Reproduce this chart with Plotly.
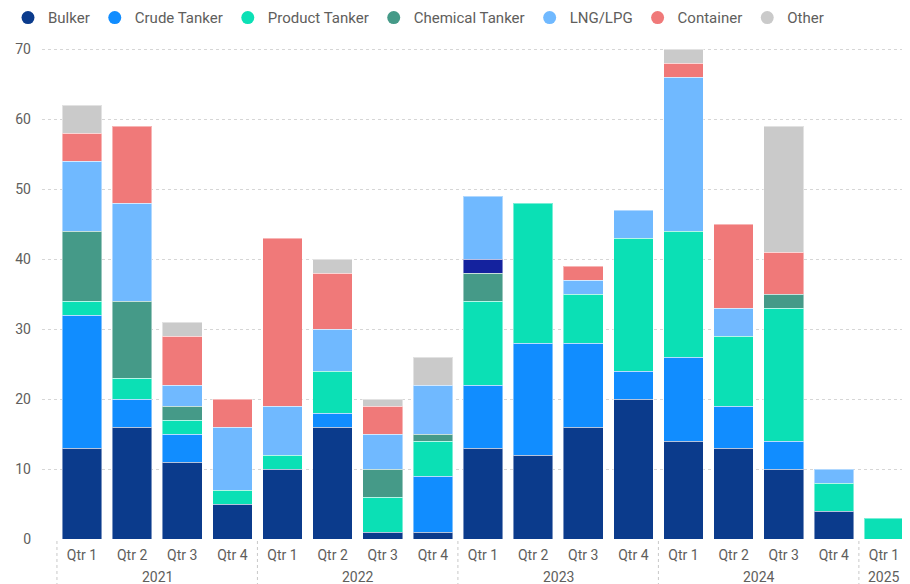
import plotly.graph_objects as go

years = ["2021"] * 4 + ["2022"] * 4 + ["2023"] * 4 + ["2024"] * 4 + ["2025"]
quarters = ["Qtr 1", "Qtr 2", "Qtr 3", "Qtr 4"] * 4 + ["Qtr 1"]

bulker = [13, 16, 11, 5, 10, 16, 1, 1, 13, 12, 16, 20, 14, 13, 10, 4, 0]
crude_tanker = [19, 4, 4, 0, 0, 2, 0, 8, 9, 16, 12, 4, 12, 6, 4, 0, 0]
product_tanker = [2, 3, 2, 2, 2, 6, 5, 5, 12, 20, 7, 19, 18, 10, 19, 4, 3]
chemical_tanker = [10, 11, 2, 0, 0, 0, 4, 1, 4, 0, 0, 0, 0, 0, 2, 0, 0]
unlabeled = [0, 0, 0, 0, 0, 0, 0, 0, 2, 0, 0, 0, 0, 0, 0, 0, 0]
lng_lpg = [10, 14, 3, 9, 7, 6, 5, 7, 9, 0, 2, 4, 22, 4, 0, 2, 0]
container = [4, 11, 7, 4, 24, 8, 4, 0, 0, 0, 2, 0, 2, 12, 6, 0, 0]
other = [4, 0, 2, 0, 0, 2, 1, 4, 0, 0, 0, 0, 2, 0, 18, 0, 0]

series = [
    ("Bulker", bulker, "#0B3B8C", True),
    ("Crude Tanker", crude_tanker, "#118DFF", True),
    ("Product Tanker", product_tanker, "#0BE0B5", True),
    ("Chemical Tanker", chemical_tanker, "#459A88", True),
    ("(Blank)", unlabeled, "#14229E", False),
    ("LNG/LPG", lng_lpg, "#70B9FF", True),
    ("Container", container, "#F07979", True),
    ("Other", other, "#CACACA", True),
]

FONT = "Segoe UI, Roboto, sans-serif"
GREY = "#605E5C"

periods = [f"{y} {q}" for y, q in zip(years, quarters)]

fig = go.Figure()
for name, vals, color, _ in series:
    fig.add_trace(go.Bar(
        x=periods,
        y=[v if v else None for v in vals],
        name=name,
        marker=dict(color=color, line=dict(color="rgba(255,255,255,0.45)", width=1)),
        showlegend=False,
    ))

# legend entries with circle symbols
for name, vals, color, show in series:
    if not show:
        continue
    fig.add_trace(go.Scatter(
        x=[None], y=[None], mode="markers", name=name,
        marker=dict(color=color, size=13, symbol="circle"),
        showlegend=True, hoverinfo="skip",
    ))

# year group labels and dotted group dividers
year_order = list(dict.fromkeys(years))
for yr in year_order:
    idx = [i for i, y in enumerate(years) if y == yr]
    fig.add_annotation(
        x=sum(idx) / len(idx), xref="x", y=0, yref="paper",
        yanchor="middle", yshift=-38, text=yr, showarrow=False,
        font=dict(size=14, color=GREY, family=FONT),
    )
boundaries = [-0.5] + [i - 0.5 for i in range(1, len(years)) if years[i] != years[i - 1]]
for b in boundaries:
    fig.add_shape(
        type="line", xref="x", yref="paper", x0=b, x1=b, y0=-0.004, y1=-0.1,
        line=dict(color="#C8C8C8", width=1, dash="dot"),
    )

# the page adds an 8px offset and clips the last 8px on the right
fig.update_layout(
    barmode="stack",
    bargap=0.21,
    width=894, height=576,
    margin=dict(l=34, r=0, t=34, b=45, autoexpand=False),
    paper_bgcolor="white", plot_bgcolor="white",
    font=dict(family=FONT, color=GREY, size=14),
    legend=dict(
        orientation="h", xref="container", x=0, xanchor="left",
        yref="container", y=0.983, yanchor="middle",
        itemwidth=30, font=dict(size=15, color=GREY, family=FONT),
        traceorder="normal", tracegroupgap=0, itemclick=False,
    ),
    xaxis=dict(
        type="category",
        range=[-0.798, 16.36],
        automargin=False,
        tickvals=periods, ticktext=quarters,
        showgrid=False, showline=False, zeroline=False,
        tickfont=dict(size=14, color=GREY),
        ticklabelstandoff=6,
    ),
    yaxis=dict(
        range=[0, 71],
        automargin=False,
        tickvals=[0, 10, 20, 30, 40, 50, 60, 70],
        showgrid=True, gridcolor="#D6D6D6", griddash="dot", gridwidth=1,
        zeroline=False, showline=False,
        tickfont=dict(size=14, color=GREY),
        ticklabelstandoff=10,
    ),
)

fig.write_html("out.html")
